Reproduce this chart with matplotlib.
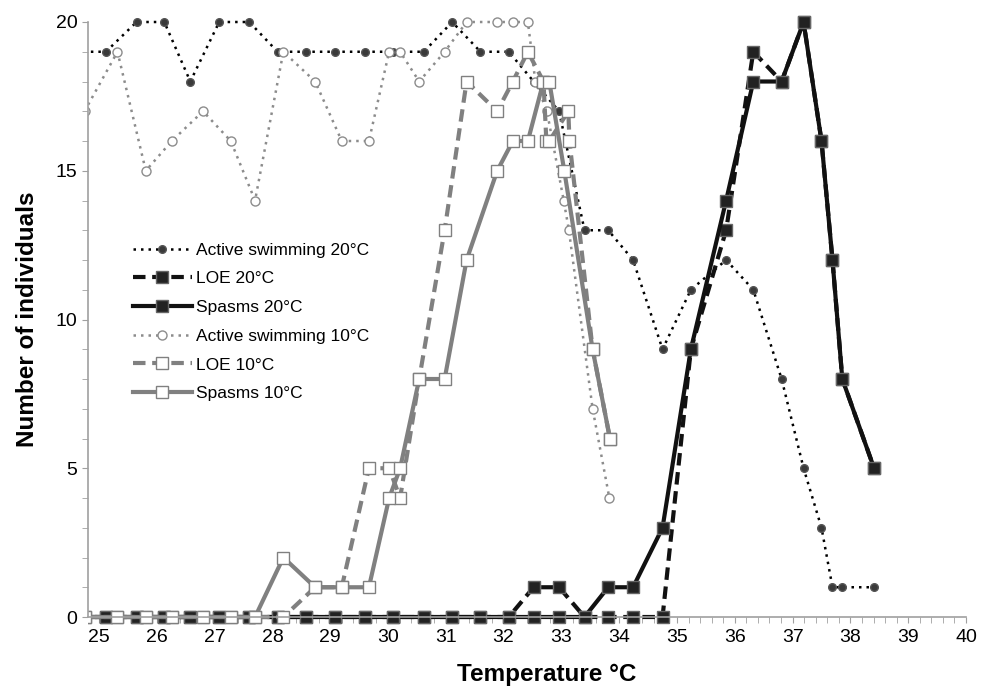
import matplotlib.pyplot as plt
from matplotlib.patches import Rectangle
from matplotlib.ticker import MultipleLocator

plt.rcParams['font.family'] = ['Liberation Sans', 'DejaVu Sans']

# Temperatures of the 20 degree runs (shared by the three 20 C series)
temp20 = [24.6, 25.12, 25.65, 26.13, 26.58, 27.08, 27.6, 28.09, 28.59, 29.08,
          29.61, 30.09, 30.62, 31.11, 31.6, 32.09, 32.52, 32.96, 33.4, 33.81,
          34.24, 34.75, 35.24, 35.85, 36.32, 36.81, 37.19, 37.5, 37.69, 37.86,
          38.41]
swim20 = [19, 19, 20, 20, 18, 20, 20, 19, 19, 19,
          19, 19, 19, 20, 19, 19, 18, 17, 13, 13,
          12, 9, 11, 12, 11, 8, 5, 3, 1, 1,
          1]
loe20 = [0, 0, 0, 0, 0, 0, 0, 0, 0, 0,
         0, 0, 0, 0, 0, 0, 1, 1, 0, 0,
         0, 0, 9, 13, 19, 18, 20, 16, 12, 8,
         5]
spasm20 = [0, 0, 0, 0, 0, 0, 0, 0, 0, 0,
           0, 0, 0, 0, 0, 0, 0, 0, 0, 1,
           1, 3, 9, 14, 18, 18, 20, 16, 12, 8,
           5]

# 10 degree runs
swim10_t = [24.75, 25.32, 25.81, 26.26, 26.8, 27.28, 27.7, 28.19, 28.74, 29.2,
            29.67, 30.02, 30.21, 30.54, 30.98, 31.36, 31.89, 32.16, 32.42,
            32.55, 32.75, 33.04, 33.13, 33.54, 33.83]
swim10 = [17, 19, 15, 16, 17, 16, 14, 19, 18, 16,
          16, 19, 19, 18, 19, 20, 20, 20, 20,
          18, 17, 14, 13, 7, 4]

loe10_t = [24.75, 25.32, 25.81, 26.26, 26.8, 27.28, 27.7, 28.19, 28.74, 29.2,
           29.67, 30.02, 30.21, 30.54, 30.98, 31.36, 31.89, 32.16, 32.42,
           32.69, 32.74, 32.79, 33.12, 33.14, 33.54, 33.84]
loe10 = [0, 0, 0, 0, 0, 0, 0, 0, 1, 1,
         5, 5, 4, 8, 13, 18, 17, 18, 19,
         18, 16, 16, 17, 16, 9, 6]

spasm10_t = [24.75, 25.32, 25.81, 26.26, 26.8, 27.28, 27.7, 28.19, 28.74, 29.2,
             29.67, 30.02, 30.21, 30.54, 30.98, 31.36, 31.89, 32.16, 32.42,
             32.69, 32.79, 33.05, 33.54, 33.84]
spasm10 = [0, 0, 0, 0, 0, 0, 0, 2, 1, 1,
           1, 4, 5, 8, 8, 12, 15, 16, 16,
           18, 18, 15, 9, 6]

fig = plt.figure(figsize=(9.91, 6.88), dpi=100)
ax = fig.add_axes([88 / 991, 71 / 688, (966 - 88) / 991, (617 - 22) / 688])

gray = '#808080'
dotted = (0, (1, 2))
dashed = (0, (3, 1.6))

lines = []
# 20 C series
lines += ax.plot(temp20, swim20, color='black', linestyle=dotted, linewidth=1.8,
                 marker='o', markersize=5.5, markerfacecolor='#3a3a3a',
                 markeredgecolor='#555555', label='Active swimming 20\u00b0C')
lines += ax.plot(temp20, loe20, color='#111111', linestyle=dashed, linewidth=3,
                 marker='s', markersize=8, markerfacecolor='#222222',
                 markeredgecolor='#666666', label='LOE 20\u00b0C')
lines += ax.plot(temp20, spasm20, color='#111111', linestyle='-', linewidth=3,
                 marker='s', markersize=8, markerfacecolor='#222222',
                 markeredgecolor='#666666', label='Spasms 20\u00b0C')

# 10 C series
lines += ax.plot(swim10_t, swim10, color='#8c8c8c', linestyle=dotted, linewidth=1.8,
                 marker='o', markersize=6.5, markerfacecolor='white',
                 markeredgecolor='#8c8c8c', label='Active swimming 10\u00b0C')
lines += ax.plot(loe10_t, loe10, color=gray, linestyle=dashed, linewidth=3,
                 marker='s', markersize=8.5, markerfacecolor='white',
                 markeredgecolor=gray, label='LOE 10\u00b0C')
lines += ax.plot(spasm10_t, spasm10, color=gray, linestyle='-', linewidth=3,
                 marker='s', markersize=8.5, markerfacecolor='white',
                 markeredgecolor=gray, label='Spasms 10\u00b0C')

# clip at the left axis only, let markers at 0 and 20 show fully
clip = Rectangle((0, -0.05), 1.05, 1.1, transform=ax.transAxes,
                 facecolor='none', edgecolor='none')
ax.add_patch(clip)
for ln in lines:
    ln.set_clip_path(clip)

ax.set_xlim(24.81, 40)
ax.set_ylim(0, 20)
ax.set_xticks(range(25, 41))
ax.set_yticks([0, 5, 10, 15, 20])
ax.xaxis.set_minor_locator(MultipleLocator(0.2))
ax.yaxis.set_minor_locator(MultipleLocator(1))

for side in ['top', 'right']:
    ax.spines[side].set_visible(False)
for side in ['left', 'bottom']:
    ax.spines[side].set_color('#a0a0a0')
    ax.spines[side].set_linewidth(1.2)

ax.tick_params(which='both', direction='out', color='#a0a0a0', labelsize=14)
ax.tick_params(which='major', length=4)
ax.tick_params(which='minor', length=4)
ax.tick_params(axis='x', pad=5)

ax.set_xlabel('Temperature \u00b0C', fontsize=17.5, fontweight='bold')
ax.set_ylabel('Number of individuals', fontsize=17.5, fontweight='bold', labelpad=12)
ax.xaxis.set_label_coords((547 - 88) / 878, -0.078)

ax.legend(loc='upper left', bbox_to_anchor=(117 / 991, 1 - 227 / 688),
          bbox_transform=fig.transFigure, frameon=False, numpoints=1,
          handlelength=3.4, handletextpad=0.25, labelspacing=0.78, fontsize=12.5)

fig.savefig('out.png', dpi=100)
